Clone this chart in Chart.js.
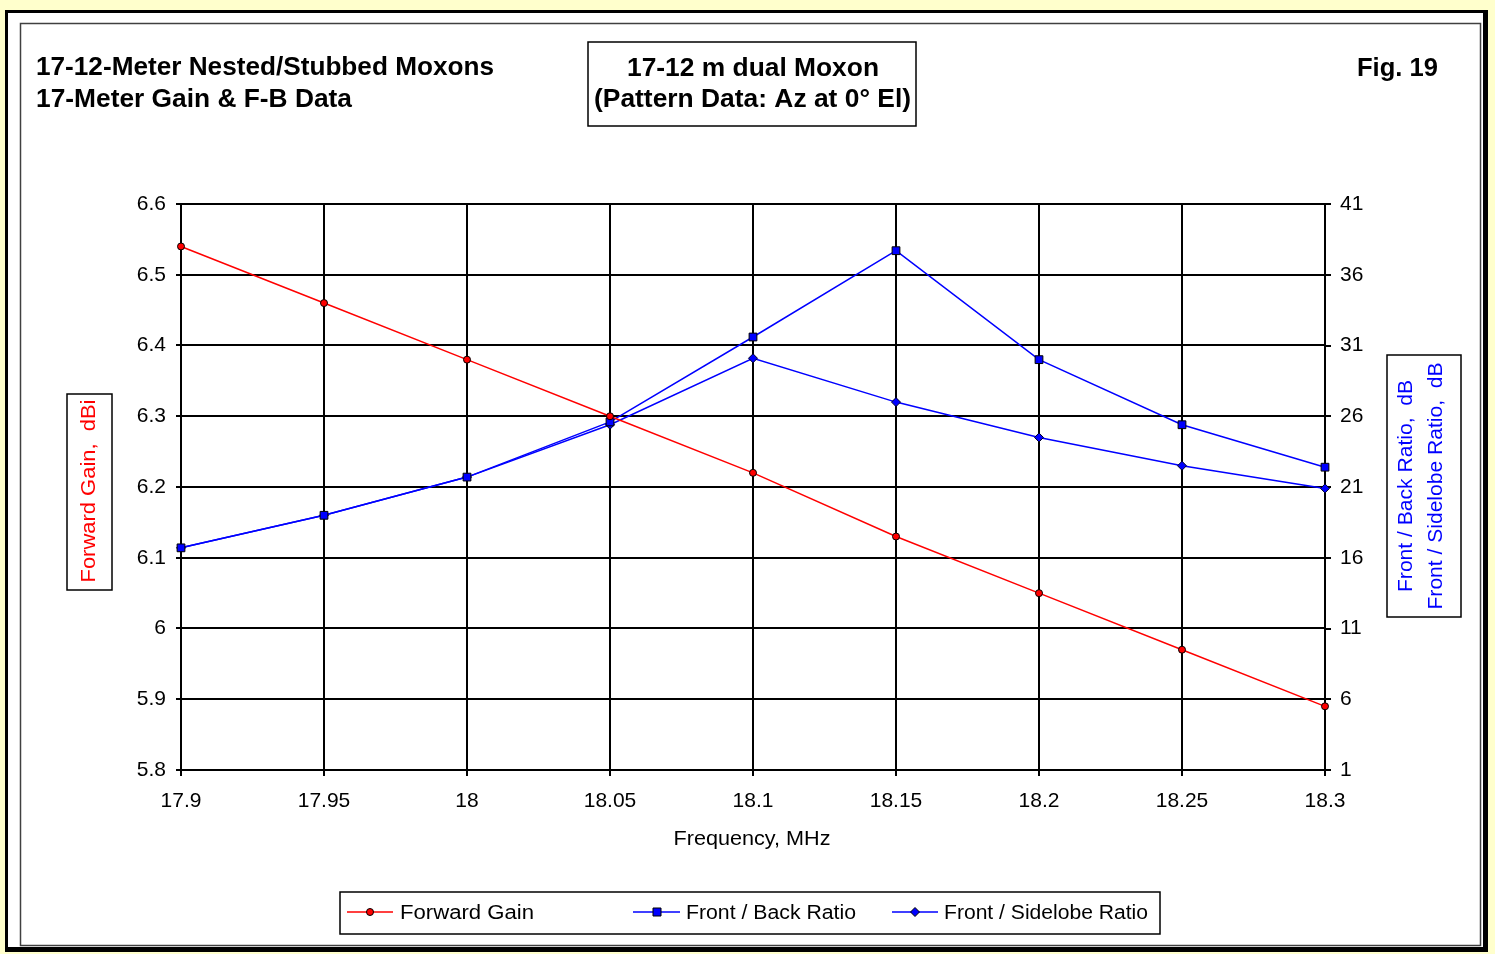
<!DOCTYPE html>
<html>
<head>
<meta charset="utf-8">
<title>17-12 m dual Moxon</title>
<script src="https://cdn.jsdelivr.net/npm/chart.js@4.4.1/dist/chart.umd.min.js"></script>
<style>
  html, body { margin: 0; padding: 0; background: #FFFFCC; overflow: hidden; }
  #wrap { position: absolute; left: 0; top: 0; width: 1495px; height: 954px; }
</style>
</head>
<body>
<div id="wrap"><canvas id="chart" width="1495" height="954"></canvas></div>
<script>
// frequencies, MHz
const freqLabels = ['17.9', '17.95', '18', '18.05', '18.1', '18.15', '18.2', '18.25', '18.3'];
// forward gain, dBi (left axis)
const forwardGain = [6.54, 6.46, 6.38, 6.30, 6.22, 6.13, 6.05, 5.97, 5.89];
// front / back ratio, dB (right axis)
const frontBack = [16.7, 19.0, 21.7, 25.6, 31.6, 37.7, 30.0, 25.4, 22.4];
// front / sidelobe ratio, dB (right axis)
const frontSide = [16.7, 19.0, 21.7, 25.4, 30.1, 27.0, 24.5, 22.5, 20.9];

const leftTicks = [5.8, 5.9, 6.0, 6.1, 6.2, 6.3, 6.4, 6.5, 6.6];
const rightTicks = [1, 6, 11, 16, 21, 26, 31, 36, 41];

const FONT = '"Liberation Sans", Arial, sans-serif';

// draw text squeezed/stretched to a given width
function fitText(ctx, text, x, y, width, font, color, align) {
    ctx.save();
    ctx.font = font;
    ctx.fillStyle = color;
    ctx.textBaseline = 'alphabetic';
    ctx.textAlign = 'left';
    const w = ctx.measureText(text).width;
    const sx = width / w;
    let left = x;
    if (align === 'center') left = x - width / 2;
    ctx.translate(left, y);
    ctx.scale(sx, 1);
    ctx.fillText(text, 0, 0);
    ctx.restore();
}

// rotated text, centred on (cx, cy), reading bottom to top
function fitTextUp(ctx, text, cx, cy, length, font, color) {
    ctx.save();
    ctx.font = font;
    ctx.fillStyle = color;
    ctx.textBaseline = 'middle';
    ctx.textAlign = 'center';
    const w = ctx.measureText(text).width;
    ctx.translate(cx, cy);
    ctx.rotate(-Math.PI / 2);
    ctx.scale(length / w, 1);
    ctx.fillText(text, 0, 0);
    ctx.restore();
}

function drawMarker(ctx, kind, x, y) {
    ctx.save();
    ctx.lineWidth = 1;
    ctx.strokeStyle = '#000';
    ctx.beginPath();
    if (kind === 'circle') {
        ctx.fillStyle = '#FF0000';
        ctx.arc(x, y, 3.5, 0, Math.PI * 2);
    } else if (kind === 'square') {
        ctx.fillStyle = '#0000FF';
        ctx.rect(x - 4, y - 4, 8, 8);
    } else {
        ctx.fillStyle = '#0000FF';
        ctx.moveTo(x, y - 4.5);
        ctx.lineTo(x + 4.5, y);
        ctx.lineTo(x, y + 4.5);
        ctx.lineTo(x - 4.5, y);
        ctx.closePath();
    }
    ctx.fill();
    ctx.stroke();
    ctx.restore();
}

const framePlugin = {
    id: 'frame',
    beforeDraw(chart) {
        const ctx = chart.ctx;
        ctx.save();
        ctx.fillStyle = '#FFFFCC';
        ctx.fillRect(0, 0, 1495, 954);
        ctx.fillStyle = '#FFFFFF';
        ctx.fillRect(6, 11, 1481, 940);
        // outer heavy frame
        ctx.fillStyle = '#000';
        ctx.fillRect(5, 10, 1483, 3);
        ctx.fillRect(5, 10, 3, 942);
        ctx.fillRect(1483, 10, 5, 942);
        ctx.fillRect(5, 947, 1483, 5);
        // inner thin frame
        ctx.strokeStyle = '#404040';
        ctx.lineWidth = 1.5;
        ctx.strokeRect(20.5, 23.5, 1460, 922);
        ctx.restore();
    },
    afterDraw(chart) {
        const ctx = chart.ctx;
        const bold = 'bold 25px ' + FONT;
        const norm = '20px ' + FONT;

        // headings
        fitText(ctx, '17-12-Meter Nested/Stubbed Moxons', 36, 75, 458, bold, '#000');
        fitText(ctx, '17-Meter Gain & F-B Data', 36, 107, 316, bold, '#000');
        fitText(ctx, 'Fig. 19', 1357, 76, 81, bold, '#000');

        ctx.save();
        ctx.strokeStyle = '#000';
        ctx.lineWidth = 1.5;
        ctx.strokeRect(588, 42, 328, 84);
        ctx.restore();
        fitText(ctx, '17-12 m dual Moxon', 627, 76, 252, bold, '#000');
        fitText(ctx, '(Pattern Data: Az at 0\u00B0 El)', 594, 107, 317, bold, '#000');

        // axis titles
        ctx.save();
        ctx.strokeStyle = '#000';
        ctx.lineWidth = 1.5;
        ctx.strokeRect(67, 394, 45, 196);
        ctx.strokeRect(1387, 355, 74, 262);
        ctx.restore();
        fitTextUp(ctx, 'Forward Gain,  dBi', 89, 491, 183, norm, '#FF0000');
        fitTextUp(ctx, 'Front / Back Ratio,  dB', 1406, 486, 212, norm, '#0000FF');
        fitTextUp(ctx, 'Front / Sidelobe Ratio,  dB', 1436, 486, 247, norm, '#0000FF');

        fitText(ctx, 'Frequency, MHz', 752, 845, 157, norm, '#000', 'center');

        // legend
        ctx.save();
        ctx.strokeStyle = '#000';
        ctx.lineWidth = 1.5;
        ctx.strokeRect(340, 892, 820, 42);
        ctx.lineWidth = 1.5;
        ctx.strokeStyle = '#FF0000';
        ctx.beginPath(); ctx.moveTo(347, 912); ctx.lineTo(393, 912); ctx.stroke();
        ctx.strokeStyle = '#0000FF';
        ctx.beginPath(); ctx.moveTo(633, 912); ctx.lineTo(680, 912); ctx.stroke();
        ctx.beginPath(); ctx.moveTo(892, 912); ctx.lineTo(938, 912); ctx.stroke();
        ctx.restore();
        drawMarker(ctx, 'circle', 370, 912);
        drawMarker(ctx, 'square', 657, 912);
        drawMarker(ctx, 'diamond', 915, 912);
        fitText(ctx, 'Forward Gain', 400, 919, 134, norm, '#000');
        fitText(ctx, 'Front / Back Ratio', 686, 919, 170, norm, '#000');
        fitText(ctx, 'Front / Sidelobe Ratio', 944, 919, 204, norm, '#000');
    }
};

const ctx = document.getElementById('chart').getContext('2d');
new Chart(ctx, {
    type: 'line',
    data: {
        labels: freqLabels,
        datasets: [
            {
                label: 'Forward Gain',
                data: forwardGain,
                yAxisID: 'y',
                borderColor: '#FF0000',
                borderWidth: 1.5,
                pointStyle: 'circle',
                pointRadius: 3.5,
                pointBackgroundColor: '#FF0000',
                pointBorderColor: '#000',
                pointBorderWidth: 1,
                tension: 0
            },
            {
                label: 'Front / Back Ratio',
                data: frontBack,
                yAxisID: 'y1',
                borderColor: '#0000FF',
                borderWidth: 1.5,
                pointStyle: 'rect',
                pointRadius: 5.5,
                pointBackgroundColor: '#0000FF',
                pointBorderColor: '#000',
                pointBorderWidth: 1,
                tension: 0
            },
            {
                label: 'Front / Sidelobe Ratio',
                data: frontSide,
                yAxisID: 'y1',
                borderColor: '#0000FF',
                borderWidth: 1.5,
                pointStyle: 'rectRot',
                pointRadius: 4.5,
                pointBackgroundColor: '#0000FF',
                pointBorderColor: '#000022',
                pointBorderWidth: 1,
                tension: 0
            }
        ]
    },
    options: {
        responsive: false,
        animation: false,
        devicePixelRatio: 1,
        layout: { padding: { top: 204, left: 0, right: 0, bottom: 0 } },
        plugins: {
            legend: { display: false },
            tooltip: { enabled: false }
        },
        scales: {
            x: {
                type: 'category',
                offset: false,
                grid: { color: '#000', lineWidth: 2, tickLength: 6, offset: false },
                border: { color: '#000', width: 2 },
                ticks: {
                    color: '#000',
                    font: { family: FONT, size: 21 },
                    padding: 13,
                    maxRotation: 0,
                    autoSkip: false
                },
                afterFit(scale) { scale.height = 184; }
            },
            y: {
                position: 'left',
                min: 5.8,
                max: 6.6,
                grid: { color: '#000', lineWidth: 2, tickLength: 5 },
                border: { color: '#000', width: 2 },
                ticks: {
                    color: '#000',
                    font: { family: FONT, size: 21 },
                    padding: 10,
                    callback: v => String(parseFloat(Number(v).toFixed(1)))
                },
                afterBuildTicks(scale) { scale.ticks = leftTicks.map(v => ({ value: v })); },
                afterFit(scale) { scale.width = 181; }
            },
            y1: {
                position: 'right',
                min: 1,
                max: 41,
                grid: { drawOnChartArea: false, color: '#000', lineWidth: 2, tickLength: 6 },
                border: { color: '#000', width: 2 },
                ticks: {
                    color: '#000',
                    font: { family: FONT, size: 21 },
                    padding: 9,
                    callback: v => String(v)
                },
                afterBuildTicks(scale) { scale.ticks = rightTicks.map(v => ({ value: v })); },
                afterFit(scale) { scale.width = 170; }
            }
        }
    },
    plugins: [framePlugin]
});
</script>
</body>
</html>
